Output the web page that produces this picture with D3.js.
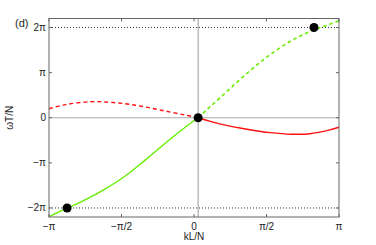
<!DOCTYPE html>
<html>
<head>
<meta charset="utf-8">
<script src="https://cdn.jsdelivr.net/npm/d3@7"></script>
<style>
  body { margin: 0; background: #fff; }
  svg { display: block; }
  text { font-family: "Liberation Sans", Arial, sans-serif; fill: #222; }
</style>
</head>
<body>
<div id="chart"></div>
<script>
// values (k in rad, omega in units of pi)
const PI = Math.PI;
const k0 = 0.09; // crossing point

const greenK = [-3.14159, -2.73, -2.36, -1.93, -1.49, -1.06, -0.63, -0.19, k0, 0.27, 0.56, 1.21, 1.65, 2.08, 2.51, 2.94, 3.14159];
const greenW = [-2.19, -2.00, -1.82, -1.58, -1.29, -0.94, -0.57, -0.21, 0, 0.17, 0.44, 1.04, 1.40, 1.69, 1.91, 2.07, 2.15];

const redK = [-3.14159, -2.79, -2.25, -1.93, -1.49, -1.06, -0.63, -0.19, k0, 0.27, 0.56, 1.21, 1.65, 2.12, 2.51, 2.94, 3.14159];
const redW = [0.20, 0.29, 0.355, 0.35, 0.31, 0.24, 0.15, 0.06, 0, -0.055, -0.135, -0.265, -0.33, -0.365, -0.355, -0.27, -0.21];

const dotK = [-2.75, k0, 2.6];
const dotW = [-2, 0, 2];

const xTicks = [-PI, -PI / 2, 0, PI / 2, PI];
const xTickLabels = ["\u2212\u03c0", "\u2212\u03c0/2", "0", "\u03c0/2", "\u03c0"];
const yTicks = [-2, -1, 0, 1, 2];
const yTickLabels = ["\u22122\u03c0", "\u2212\u03c0", "0", "\u03c0", "2\u03c0"];

// layout
var width = 376, height = 245;
var padL = 49, padR = 339, padT = 18.5, padB = 217;

var svg = d3.select("#chart").append("svg")
    .attr("width", width)
    .attr("height", height);

var x = d3.scaleLinear().domain([-PI, PI]).range([padL, padR]);
var y = d3.scaleLinear().domain([-2.2, 2.2]).range([padB, padT]);

// reference lines
svg.append("line")
    .attr("x1", padL).attr("x2", padR)
    .attr("y1", y(0)).attr("y2", y(0))
    .attr("stroke", "#aaa").attr("stroke-width", 1.2);
svg.append("line")
    .attr("x1", x(k0)).attr("x2", x(k0))
    .attr("y1", padT).attr("y2", padB)
    .attr("stroke", "#aaa").attr("stroke-width", 1.2);
[-2, 2].forEach(function (w) {
  svg.append("line")
    .attr("x1", padL).attr("x2", padR)
    .attr("y1", y(w)).attr("y2", y(w))
    .attr("stroke", "#333").attr("stroke-width", 1)
    .attr("stroke-dasharray", "1,2");
});

// curves
var line = d3.line()
    .x(function (d) { return x(d[0]); })
    .y(function (d) { return y(d[1]); })
    .curve(d3.curveCatmullRom.alpha(0.5));

function pts(ks, ws, lo, hi) {
  return ks.map(function (k, i) { return [k, ws[i]]; })
           .filter(function (d) { return d[0] >= lo && d[0] <= hi; });
}

var green = "#66ee00", red = "#ff1010";

svg.append("path").datum(pts(greenK, greenW, -4, k0))
    .attr("d", line).attr("fill", "none")
    .attr("stroke", green).attr("stroke-width", 1.4);
svg.append("path").datum(pts(greenK, greenW, k0, 4))
    .attr("d", line).attr("fill", "none")
    .attr("stroke", green).attr("stroke-width", 1.6)
    .attr("stroke-dasharray", "3.5,3");
svg.append("path").datum(pts(redK, redW, -4, k0))
    .attr("d", line).attr("fill", "none")
    .attr("stroke", red).attr("stroke-width", 1.4)
    .attr("stroke-dasharray", "4,3");
svg.append("path").datum(pts(redK, redW, k0, 4))
    .attr("d", line).attr("fill", "none")
    .attr("stroke", red).attr("stroke-width", 1.4);

// dots
svg.selectAll("circle.pt")
    .data(dotK.map(function (k, i) { return [k, dotW[i]]; }))
  .enter().append("circle")
    .attr("cx", function (d) { return x(d[0]); })
    .attr("cy", function (d) { return y(d[1]); })
    .attr("r", 4.5)
    .attr("fill", "#000");

// frame
svg.append("rect")
    .attr("x", padL).attr("y", padT)
    .attr("width", padR - padL).attr("height", padB - padT)
    .attr("fill", "none").attr("stroke", "#666").attr("stroke-width", 1);

// ticks (inward, on all four sides)
xTicks.forEach(function (t) {
  svg.append("line").attr("x1", x(t)).attr("x2", x(t)).attr("y1", padB).attr("y2", padB - 3).attr("stroke", "#666");
  svg.append("line").attr("x1", x(t)).attr("x2", x(t)).attr("y1", padT).attr("y2", padT + 3).attr("stroke", "#666");
});
yTicks.forEach(function (t) {
  svg.append("line").attr("x1", padL).attr("x2", padL + 3).attr("y1", y(t)).attr("y2", y(t)).attr("stroke", "#666");
  svg.append("line").attr("x1", padR).attr("x2", padR - 3).attr("y1", y(t)).attr("y2", y(t)).attr("stroke", "#666");
});

// tick labels
svg.selectAll("text.xt")
    .data(xTicks)
  .enter().append("text")
    .attr("x", function (d) { return x(d); })
    .attr("y", padB + 13)
    .attr("text-anchor", "middle")
    .style("font-size", "10px")
    .text(function (d, i) { return xTickLabels[i]; });

svg.selectAll("text.yt")
    .data(yTicks)
  .enter().append("text")
    .attr("x", padL - 3)
    .attr("y", function (d) { return y(d) + 3.5; })
    .attr("text-anchor", "end")
    .style("font-size", "10px")
    .text(function (d, i) { return yTickLabels[i]; });

// axis labels
svg.append("text")
    .attr("x", x(0)).attr("y", padB + 23)
    .attr("text-anchor", "middle")
    .style("font-size", "10px")
    .text("kL/N");

svg.append("text")
    .attr("transform", "translate(13," + y(0) + ") rotate(-90)")
    .attr("text-anchor", "middle")
    .style("font-size", "10px")
    .text("\u03c9T/N");

svg.append("text")
    .attr("x", 15).attr("y", 27)
    .style("font-size", "11px")
    .text("(d)");
</script>
</body>
</html>
